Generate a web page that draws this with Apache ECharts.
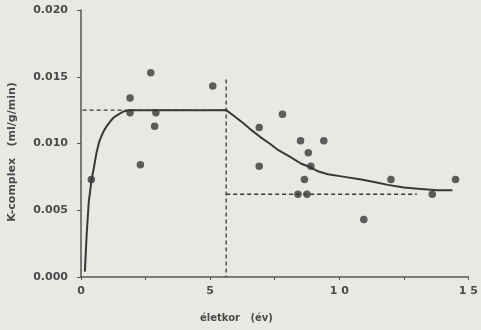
<!DOCTYPE html>
<html>
<head>
<meta charset="utf-8">
<script src="https://cdn.jsdelivr.net/npm/echarts@6/dist/echarts.min.js"></script>
<style>
  html, body { margin: 0; padding: 0; background: #e9e8e4; }
  #main { width: 481px; height: 330px; }
</style>
</head>
<body>
<div id="main"></div>
<script>
// mért pontok (életkor, K-complex)
var pontok = [
  [0.4, 0.0073], [1.9, 0.0134], [1.9, 0.0123], [2.3, 0.0084], [2.7, 0.0153],
  [2.85, 0.0113], [2.9, 0.0123], [5.1, 0.0143], [6.9, 0.0112], [6.9, 0.0083],
  [7.8, 0.0122], [8.4, 0.0062], [8.5, 0.0102], [8.65, 0.0073], [8.75, 0.0062],
  [8.8, 0.0093], [8.9, 0.0083], [9.4, 0.0102], [10.95, 0.0043], [12.0, 0.0073],
  [13.6, 0.0062], [14.5, 0.0073]
];

// illesztett görbe
var gorbe = [
  [0.15, 0.0004], [0.22, 0.0032], [0.3, 0.0056], [0.41, 0.0073], [0.5, 0.0082],
  [0.6, 0.0093], [0.7, 0.0101], [0.8, 0.0106], [0.9, 0.0110], [1.0, 0.0113],
  [1.15, 0.0117], [1.3, 0.0120], [1.47, 0.0122], [1.65, 0.0124], [1.9, 0.0125],
  [5.62, 0.0125], [5.9, 0.0121], [6.3, 0.0115], [6.6, 0.0110], [6.93, 0.0105],
  [7.3, 0.0100], [7.64, 0.0095], [8.1, 0.0090], [8.51, 0.0085], [8.9, 0.0082],
  [9.2, 0.0079], [9.56, 0.0077], [10.2, 0.0075], [10.85, 0.0073], [11.4, 0.0071],
  [11.88, 0.0069], [12.5, 0.0067], [13.16, 0.0066], [13.8, 0.0065], [14.38, 0.0065]
];

// szaggatott segédvonalak
var platoVonal = [[-0.75, 0.0125], [5.62, 0.0125]];
var fuggolegesVonal = [[5.62, 0.0148], [5.62, 0]];
var aszimptota = [[5.62, 0.0062], [13.0, 0.0062]];

var xTicks = [0, 5, 10, 15];
var yTicks = [0, 0.005, 0.01, 0.015, 0.02];

var sotet = '#383838';
var chart = echarts.init(document.getElementById('main'));

function dashed(data) {
  return {
    type: 'line', data: data, symbol: 'none', clip: false, silent: true,
    lineStyle: { color: sotet, width: 1.3, type: [4, 3] }
  };
}

var option = {
  backgroundColor: '#e9e8e4',
  animation: false,
  textStyle: { fontFamily: 'DejaVu Sans' },
  grid: { left: 81, right: 10, top: 10, bottom: 53 },
  xAxis: {
    type: 'value', min: xTicks[0], max: xTicks[xTicks.length - 1], interval: 5,
    axisLine: { lineStyle: { color: '#555', width: 1.5 } },
    axisTick: { show: true, length: 3, lineStyle: { color: '#555' } },
    minorTick: { show: true, splitNumber: 2, length: 3, lineStyle: { color: '#555' } },
    splitLine: { show: false },
    axisLabel: { color: '#4a4a4a', fontWeight: 'bold', fontSize: 11, margin: 9,
      formatter: function (v) { return String(v).split('').join(' '); } }
  },
  yAxis: {
    type: 'value', min: yTicks[0], max: yTicks[yTicks.length - 1], interval: 0.005,
    axisLine: { show: true, lineStyle: { color: '#555', width: 1.5 } },
    axisTick: { show: true, length: 4, lineStyle: { color: '#555' } },
    splitLine: { show: false },
    axisLabel: { color: '#4a4a4a', fontWeight: 'bold', fontSize: 11, margin: 13,
      formatter: function (v) { return v.toFixed(3); } }
  },
  graphic: [{
    type: 'text', left: 200, top: 313,
    style: { text: 'életkor   (év)', fill: '#4a4a4a', font: 'bold 10px "DejaVu Sans"' }
  }, {
    type: 'text', x: 12, y: 152, rotation: Math.PI / 2,
    style: { text: 'K-complex   (ml/g/min)', fill: '#4a4a4a', font: 'bold 11px "DejaVu Sans"',
      align: 'center', verticalAlign: 'middle' }
  }],
  series: [
    dashed(platoVonal),
    dashed(fuggolegesVonal),
    dashed(aszimptota),
    {
      type: 'line', data: gorbe, symbol: 'none', smooth: false,
      lineStyle: { color: sotet, width: 2 }
    },
    {
      type: 'scatter', data: pontok, symbolSize: 7.5,
      itemStyle: { color: sotet }
    }
  ]
};

chart.setOption(option);
</script>
</body>
</html>
